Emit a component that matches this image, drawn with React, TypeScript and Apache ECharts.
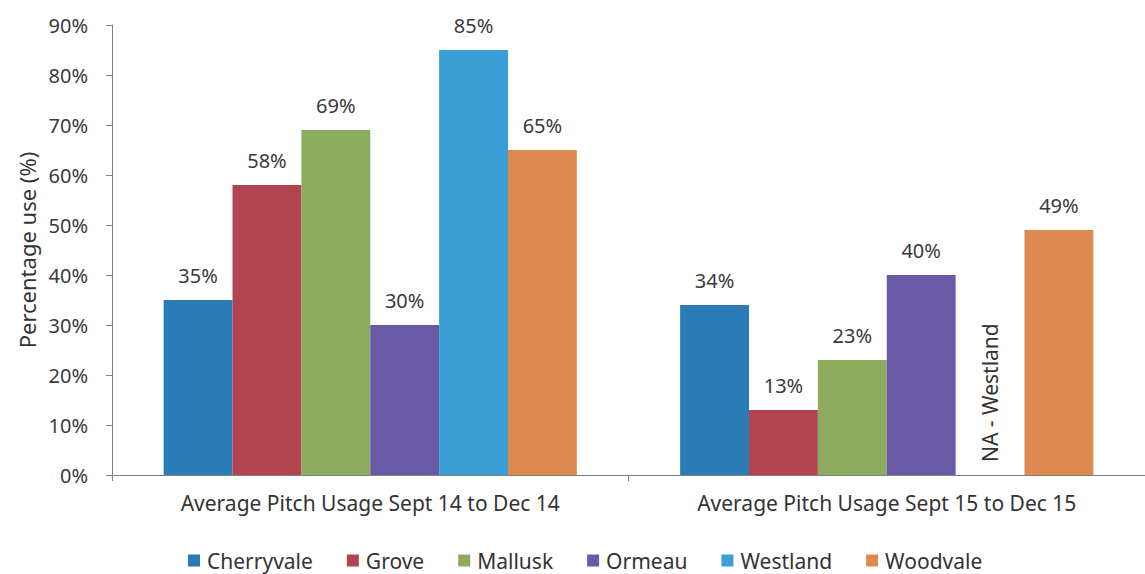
import React, { useEffect, useRef } from "react";
import * as echarts from "echarts";

const categories = [
  "Average Pitch Usage Sept 14 to Dec 14",
  "Average Pitch Usage Sept 15 to Dec 15",
];
const seriesNames = ["Cherryvale", "Grove", "Mallusk", "Ormeau", "Westland", "Woodvale"];
const cherryvale = [35, 34];
const grove = [58, 13];
const mallusk = [69, 23];
const ormeau = [30, 40];
const westland = [85, null];
const woodvale = [65, 49];
const naLabel = "NA - Westland";
const yTicks = [0, 10, 20, 30, 40, 50, 60, 70, 80, 90];

const colors = ["#2b7bb7", "#b1444e", "#8dab5e", "#6a5aa6", "#3a9fd4", "#dd8a50"];
const valueLists = [cherryvale, grove, mallusk, ormeau, westland, woodvale];
const FONT = "Noto Sans";

export default function App() {
  const ref = useRef<HTMLDivElement>(null);
  useEffect(() => {
    document.body.style.margin = "0";
    const chart = echarts.init(ref.current!, null, { renderer: "svg" });
    const series = seriesNames.map((name, i) => ({
      name,
      type: "bar",
      barGap: "0%",
      barCategoryGap: "20%",
      itemStyle: { color: colors[i] },
      label: {
        show: true,
        position: "top",
        distance: 15,
        formatter: "{c}%",
        color: "#3a3a3a",
        fontFamily: FONT,
        fontSize: 20,
      },
      data: valueLists[i].map((v) =>
        v === null
          ? {
              value: 0,
              itemStyle: { color: "rgba(0,0,0,0)" },
              label: {
                show: true,
                formatter: naLabel,
                position: "insideBottom",
                distance: 13,
                rotate: 90,
                align: "left",
                verticalAlign: "middle",
                color: "#333",
                fontFamily: FONT,
                fontSize: 21,
              },
            }
          : v
      ),
    }));
    chart.setOption({
      animation: false,
      backgroundColor: "#ffffff",
      color: colors,
      grid: { left: 112, top: 25, width: 1040, height: 450 },
      legend: {
        data: seriesNames,
        left: 183,
        top: 545,
        icon: "rect",
        itemWidth: 12,
        itemHeight: 12,
        itemGap: 34,
        textStyle: { fontFamily: FONT, fontSize: 21, color: "#333", padding: [0, 0, 0, 2] },
      },
      xAxis: {
        type: "category",
        data: categories,
        axisLine: { lineStyle: { color: "#808080" } },
        axisTick: { show: true, length: 6, lineStyle: { color: "#808080" } },
        axisLabel: {
          margin: 17,
          fontFamily: FONT,
          fontSize: 21,
          color: "#333",
        },
      },
      yAxis: {
        type: "value",
        min: yTicks[0],
        max: yTicks[yTicks.length - 1],
        interval: 10,
        name: "Percentage use (%)",
        nameLocation: "middle",
        nameGap: 74,
        nameTextStyle: { fontFamily: FONT, fontSize: 22, color: "#333" },
        axisLine: { show: true, lineStyle: { color: "#808080" } },
        axisTick: { show: true, length: 6, lineStyle: { color: "#808080" } },
        splitLine: { show: false },
        axisLabel: {
          margin: 24,
          formatter: "{value}%",
          fontFamily: FONT,
          fontSize: 20,
          color: "#3a3a3a",
        },
      },
      series,
    });
    return () => chart.dispose();
  }, []);
  return <div ref={ref} style={{ width: 1145, height: 574 }} />;
}
